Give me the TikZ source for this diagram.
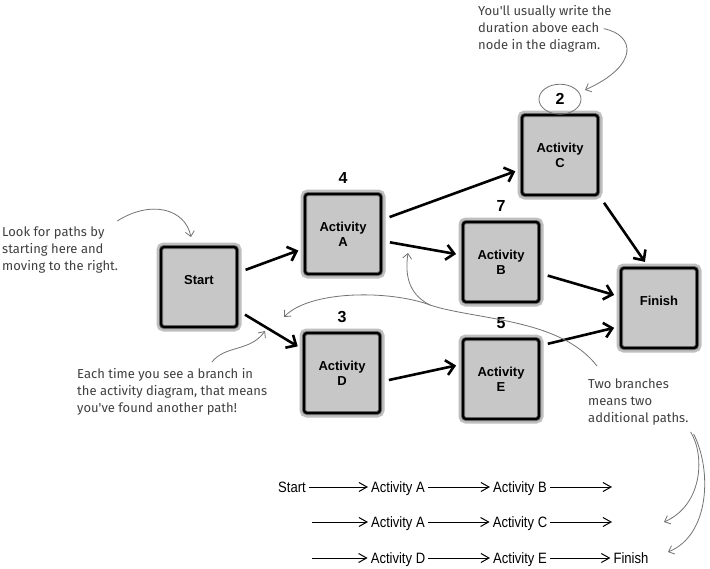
\documentclass[tikz,border=0pt]{standalone}
\usepackage{fontspec}
\setmainfont{Liberation Sans}
\newfontfamily\handfont{Fira Sans}
\newfontfamily\narrowfont[FakeStretch=0.87]{Liberation Sans}
\usetikzlibrary{arrows.meta,positioning}

\begin{document}
\begin{tikzpicture}[x=1pt,y=-1pt,
  activity/.style={rectangle,minimum width=76pt,minimum height=80pt,rounded corners=3pt,
    fill=black!22,draw=black!55,line width=4pt,
    preaction={draw=black!25,line width=9pt},
    postaction={draw=black,line width=2.3pt},
    font=\fontsize{13}{15}\selectfont\bfseries,align=center},
  dur/.style={font=\fontsize{16}{16}\selectfont\bfseries,inner sep=1pt},
  flow/.style={line width=2.6pt,-{Straight Barb[length=8pt,width=15pt]},shorten <=7pt,shorten >=5pt},
  note/.style={font=\handfont\fontsize{13}{17}\selectfont,text=black!75,align=left,inner sep=0pt,anchor=north west},
  handline/.style={draw=black!55,line width=0.8pt},
  hand/.style={handline,-{Straight Barb[length=5pt,width=9pt]}},
  seqtext/.style={font=\narrowfont\fontsize{15}{15}\selectfont,inner sep=3pt,text height=11pt,text depth=1pt},
  seq/.style={line width=1pt,-{Straight Barb[length=8pt,width=9pt]}}]
  \useasboundingbox (0,0) rectangle (710,568);

  \node[activity] (start) at (199,287) {Start\\~};
  \node[activity] (a) at (343,234) {Activity\\A};
  \node[activity] (b) at (501,262) {Activity\\B};
  \node[activity] (c) at (560,155) {Activity\\C};
  \node[activity] (d) at (342,373) {Activity\\D};
  \node[activity] (e) at (501,379) {Activity\\E};
  \node[activity] (finish) at (659,308) {Finish\\~};
  \foreach \n/\t in {a/4,b/7,c/2,d/3,e/5}
    \node[dur,above=7pt of \n] (t\n) {\t};

  \draw[flow] (start) -- (a);
  \draw[flow] (start) -- (d);
  \draw[flow] (a) -- (c);
  \draw[flow] (a) -- (b);
  \draw[flow] (c.south east) -- (finish.105);
  \draw[flow] (b) -- (finish);
  \draw[flow] (d.-12) -- (e.160);
  \draw[flow] (e.40) -- (finish.205);

  \node[note] (lookfor) at (2,227) {Look for paths by\\starting here and\\moving to the right.};
  \node[note] (usually) at (478,5) {You'll usually write the\\duration above each\\node in the diagram.};
  \node[note] (branch) at (77,368) {Each time you see a branch in\\the activity diagram, that means\\you've found another path!};
  \node[note] (twobr) at (588,379) {Two branches\\means two\\additional paths.};

  \coordinate (lookend) at (191,237);
  \coordinate (loopend) at (585,90);
  \coordinate (eachend) at (265,331);
  \coordinate (split) at (430,305);
  \coordinate (upend) at (408,253);
  \coordinate (leftend) at (284,317);
  \coordinate (twoend1) at (664,522);
  \coordinate (twoend2) at (668,552);

  \draw[hand] ([shift={(-1,-6)}]lookfor.north east) .. controls (150,200) and (185,208) .. (lookend);
  \draw[hand] ([shift={(-8,0)}]usually.east) .. controls (635,35) and (640,65) .. (loopend);
  \draw[handline] (tc) ellipse [x radius=21, y radius=15];
  \draw[hand] ([shift={(135,-6)}]branch.north west) .. controls (225,345) and (250,352) .. (eachend);
  \draw[handline] ([shift={(9,-13)}]twobr.north west) .. controls (560,318) and (475,320) .. (split);
  \draw[hand] (split) .. controls (412,296) and (404,280) .. (upend);
  \draw[hand] (split) .. controls (390,290) and (310,290) .. (leftend);
  \draw[hand] ([shift={(2,6)}]twobr.south east) .. controls (705,455) and (703,505) .. (twoend1);
  \draw[hand] ([shift={(5,8)}]twobr.south east) .. controls (712,470) and (710,535) .. (twoend2);

  \node[seqtext] (s1) at (292,487) {Start};
  \foreach \r/\y/\p/\q in {1/487/A/B,2/522/A/C,3/558/D/E}{
    \node[seqtext] (p\r) at (398,\y) {Activity \p};
    \node[seqtext] (q\r) at (520,\y) {Activity \q};
    \coordinate (in\r) at (312,\y);
    \coordinate (out\r) at (612,\y);
    \draw[seq] (p\r) -- (q\r);
  }
  \node[seqtext] (f3) at (631,558) {Finish};
  \draw[seq] (s1) -- (p1);
  \draw[seq] (in2) -- (p2);
  \draw[seq] (in3) -- (p3);
  \draw[seq] (q1) -- (out1);
  \draw[seq] (q2) -- (out2);
  \draw[seq] (q3) -- (f3);
\end{tikzpicture}
\end{document}
